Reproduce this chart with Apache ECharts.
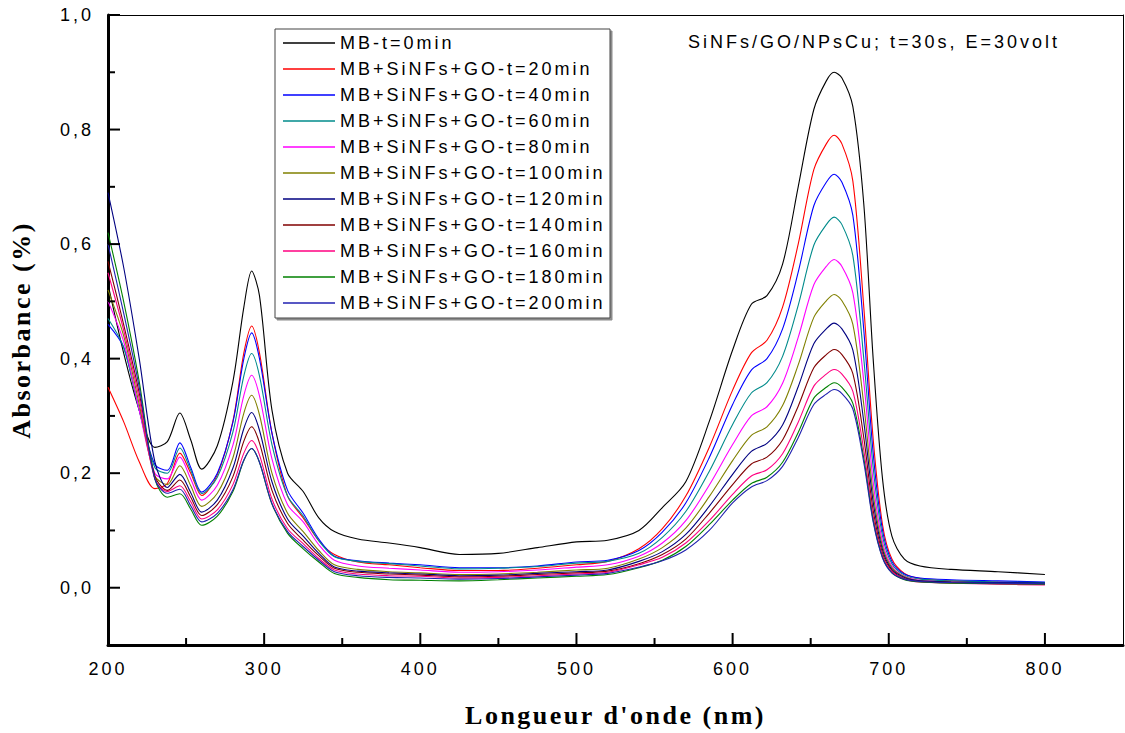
<!DOCTYPE html>
<html>
<head>
<meta charset="utf-8">
<script src="https://cdn.jsdelivr.net/npm/echarts@6/dist/echarts.min.js"></script>
<style>
html,body{margin:0;padding:0;background:#fff}
#c{width:1125px;height:733px}
#c text[style*="spacedA"]{letter-spacing:3px}
#c text[style*="spacedB"]{letter-spacing:2.5px}
</style>
</head>
<body>
<div id="c"></div>
<script>
// ---------------- DATA ----------------
const wavelength = [200,210,220,230,238,246,253,260,270,280,287,292,297,305,315,325,335,345,360,380,400,425,450,475,500,520,540,555,570,585,600,612,622,632,642,652,660,665,670,677,684,690,696,702,710,720,740,770,800];

const mb_t0 = [0.53,0.41,0.31,0.245,0.255,0.305,0.258,0.207,0.248,0.36,0.49,0.553,0.51,0.31,0.2,0.168,0.122,0.098,0.085,0.078,
 0.07,0.058,0.06,0.07,0.08,0.083,0.10,0.14,0.185,0.29,0.415,
 0.495,0.51,0.565,0.70,0.835,0.885,0.9,
 0.89,0.84,0.67,0.40,0.19,0.09,0.05,0.038,0.032,0.028,0.023];
const go_t20 = [0.35,0.29,0.22,0.173,0.182,0.235,0.2,0.161,0.197,0.291,0.41,0.457,0.41,0.27,0.16,0.122,0.082,0.058,0.045,0.04,
 0.035,0.03,0.03,0.034,0.04,0.046,0.068,0.103,0.16,0.245,0.345,
 0.41,0.432,0.49,0.6,0.73,0.775,0.79,
 0.775,0.71,0.49,0.26,0.11,0.05,0.025,0.016,0.012,0.01,0.008];
const go_t40 = [0.46,0.42,0.31,0.215,0.205,0.253,0.21,0.167,0.2,0.289,0.4,0.445,0.4,0.27,0.17,0.13,0.085,0.055,0.047,0.043,
 0.04,0.035,0.035,0.038,0.045,0.048,0.065,0.097,0.148,0.227,0.32,
 0.38,0.40,0.452,0.551,0.667,0.708,0.722,
 0.708,0.65,0.45,0.235,0.1,0.046,0.024,0.017,0.014,0.012,0.01];
const go_t60 = [0.47,0.42,0.31,0.21,0.2,0.244,0.205,0.164,0.193,0.272,0.37,0.409,0.37,0.25,0.16,0.125,0.082,0.054,0.046,0.042,
 0.038,0.033,0.034,0.037,0.043,0.046,0.06,0.088,0.133,0.203,0.285,
 0.34,0.358,0.404,0.493,0.598,0.634,0.647,
 0.634,0.58,0.40,0.21,0.09,0.042,0.022,0.015,0.012,0.01,0.009];
const go_t80 = [0.5,0.43,0.31,0.2,0.19,0.228,0.19,0.153,0.179,0.249,0.336,0.371,0.335,0.225,0.145,0.115,0.075,0.048,0.038,0.034,
 0.031,0.027,0.028,0.031,0.036,0.04,0.055,0.078,0.117,0.179,0.25,
 0.30,0.316,0.357,0.437,0.529,0.561,0.573,
 0.561,0.515,0.36,0.185,0.08,0.038,0.02,0.013,0.01,0.008,0.007];
const go_t100 = [0.52,0.44,0.32,0.195,0.18,0.213,0.178,0.142,0.165,0.227,0.305,0.336,0.302,0.2,0.13,0.098,0.065,0.04,0.032,0.028,
 0.026,0.023,0.024,0.027,0.031,0.034,0.05,0.07,0.104,0.159,0.222,
 0.266,0.281,0.318,0.389,0.472,0.501,0.512,
 0.501,0.46,0.32,0.165,0.072,0.035,0.019,0.012,0.01,0.008,0.007];
const go_t120 = [0.69,0.56,0.40,0.22,0.175,0.198,0.166,0.132,0.153,0.209,0.278,0.306,0.275,0.185,0.12,0.09,0.06,0.036,0.029,0.026,
 0.024,0.021,0.022,0.025,0.028,0.031,0.046,0.063,0.093,0.142,0.198,
 0.238,0.252,0.284,0.351,0.426,0.452,0.462,
 0.452,0.415,0.29,0.15,0.066,0.032,0.018,0.012,0.01,0.009,0.008];
const go_t140 = [0.57,0.46,0.34,0.195,0.17,0.188,0.158,0.126,0.145,0.194,0.256,0.281,0.253,0.17,0.112,0.083,0.056,0.034,0.027,0.024,
 0.022,0.019,0.02,0.023,0.026,0.029,0.042,0.058,0.085,0.13,0.18,
 0.216,0.228,0.258,0.317,0.384,0.407,0.416,
 0.407,0.374,0.262,0.135,0.06,0.03,0.016,0.011,0.009,0.007,0.006];
const go_t160 = [0.55,0.45,0.33,0.19,0.168,0.178,0.15,0.12,0.136,0.18,0.235,0.257,0.232,0.155,0.103,0.077,0.051,0.031,0.024,0.021,
 0.02,0.017,0.018,0.021,0.024,0.027,0.04,0.053,0.078,0.117,0.163,
 0.195,0.206,0.234,0.289,0.352,0.373,0.381,
 0.373,0.343,0.24,0.125,0.056,0.028,0.015,0.01,0.008,0.006,0.005];
const go_t180 = [0.62,0.50,0.36,0.19,0.158,0.164,0.137,0.109,0.125,0.168,0.222,0.243,0.219,0.146,0.095,0.068,0.045,0.025,0.018,0.014,
 0.013,0.012,0.014,0.017,0.02,0.023,0.035,0.048,0.072,0.11,0.153,
 0.182,0.193,0.219,0.271,0.331,0.35,0.358,
 0.35,0.322,0.226,0.118,0.053,0.026,0.014,0.01,0.008,0.007,0.006];
const go_t200 = [0.60,0.48,0.35,0.19,0.165,0.172,0.143,0.115,0.13,0.171,0.223,0.243,0.219,0.147,0.098,0.072,0.048,0.028,0.021,0.018,
 0.017,0.015,0.016,0.019,0.022,0.025,0.036,0.047,0.066,0.10,0.148,
 0.176,0.187,0.212,0.262,0.32,0.338,0.346,
 0.339,0.312,0.219,0.115,0.052,0.026,0.015,0.011,0.009,0.008,0.007];

const seriesNames = ['MB-t=0min','MB+SiNFs+GO-t=20min','MB+SiNFs+GO-t=40min','MB+SiNFs+GO-t=60min','MB+SiNFs+GO-t=80min',
 'MB+SiNFs+GO-t=100min','MB+SiNFs+GO-t=120min','MB+SiNFs+GO-t=140min','MB+SiNFs+GO-t=160min','MB+SiNFs+GO-t=180min','MB+SiNFs+GO-t=200min'];
const seriesValues = [mb_t0, go_t20, go_t40, go_t60, go_t80, go_t100, go_t120, go_t140, go_t160, go_t180, go_t200];

const xRange = [200, 850];
const yRange = [-0.1, 1.0];
const xMajorTicks = [200,300,400,500,600,700,800];
const xMinorTicks = [250,350,450,550,650,750];
const yMajorTicks = [0,0.2,0.4,0.6,0.8,1.0];
const yMinorTicks = [0.1,0.3,0.5,0.7,0.9];
const annotation = 'SiNFs/GO/NPsCu; t=30s, E=30volt';
const xTitle = "Longueur d'onde (nm)";
const yTitle = 'Absorbance (%)';

// ---------------- STYLE ----------------
const colors = ['#000000','#FF0000','#0000FF','#008B8B','#FF00FF','#808000','#000080','#800000','#FF0080','#008000','#2020B0'];
const LABEL_FONT = "spacedA, 'Liberation Sans', Arial, sans-serif";
const TITLE_FONT = "spacedB, 'Liberation Serif', 'Times New Roman', serif";
const MAJOR_LEN = 12, MINOR_LEN = 7;
const TICK_COLOR = '#000000';

const chart = echarts.init(document.getElementById('c'), null, {renderer: 'svg'});

const series = seriesNames.map((name, i) => ({
  name: name,
  type: 'line',
  data: wavelength.map((w, k) => [w, seriesValues[i][k]]),
  showSymbol: false,
  symbol: 'none',
  smooth: 0.3,
  color: colors[i],
  lineStyle: {width: 1.1, color: colors[i]},
  z: 2 + i * 0.01
}));

// inward tick marks, positioned through the axes' scales
series.push({
  type: 'custom', name: 'xticks', silent: true, clip: false, z: 6,
  data: xMajorTicks.map(v => [v, MAJOR_LEN]).concat(xMinorTicks.map(v => [v, MINOR_LEN])),
  encode: {x: 0},
  renderItem: (params, api) => {
    const p = api.coord([api.value(0), yRange[0]]);
    return {type: 'line', shape: {x1: p[0], y1: p[1], x2: p[0], y2: p[1] - api.value(1)},
            style: {stroke: TICK_COLOR, lineWidth: 2}};
  }
});
series.push({
  type: 'custom', name: 'yticks', silent: true, clip: false, z: 6,
  data: yMajorTicks.map(v => [xRange[0], v, MAJOR_LEN]).concat(yMinorTicks.map(v => [xRange[0], v, MINOR_LEN])),
  encode: {x: 0, y: 1},
  renderItem: (params, api) => {
    const p = api.coord([xRange[0], api.value(1)]);
    return {type: 'line', shape: {x1: p[0], y1: p[1], x2: p[0] + api.value(2), y2: p[1]},
            style: {stroke: TICK_COLOR, lineWidth: 2}};
  }
});

chart.setOption({
  animation: false,
  backgroundColor: '#fff',
  grid: {show: false, left: 106, right: 2, top: 15, bottom: 88},
  xAxis: [
    {
      type: 'value', min: xRange[0], max: xRange[1], position: 'bottom',
      axisLine: {show: true, onZero: false, lineStyle: {color: '#000', width: 3}},
      axisTick: {show: false}, minorTick: {show: false},
      axisLabel: {customValues: xMajorTicks, margin: 15, fontSize: 18, color: '#000', fontFamily: LABEL_FONT},
      splitLine: {show: false},
      name: xTitle, nameLocation: 'middle', nameGap: 57,
      nameTextStyle: {fontFamily: TITLE_FONT, fontSize: 26, fontWeight: 'bold', color: '#000'}
    },
    {
      type: 'value', min: xRange[0], max: xRange[1], position: 'top',
      axisLine: {show: true, onZero: false, lineStyle: {color: '#000', width: 1}},
      axisTick: {show: false}, axisLabel: {show: false}, splitLine: {show: false}
    }
  ],
  yAxis: [
    {
      type: 'value', min: yRange[0], max: yRange[1], position: 'left',
      axisLine: {show: true, onZero: false, lineStyle: {color: '#000', width: 3}},
      axisTick: {show: false}, minorTick: {show: false},
      axisLabel: {customValues: yMajorTicks, margin: 14, fontSize: 18, color: '#000', fontFamily: LABEL_FONT,
        formatter: v => Number(v).toFixed(1).replace('.', ',')},
      splitLine: {show: false},
      name: yTitle, nameLocation: 'middle', nameGap: 74, nameRotate: 90,
      nameTextStyle: {fontFamily: TITLE_FONT, fontSize: 26, fontWeight: 'bold', color: '#000'}
    },
    {
      type: 'value', min: yRange[0], max: yRange[1], position: 'right',
      axisLine: {show: true, onZero: false, lineStyle: {color: '#000', width: 1}},
      axisTick: {show: false}, axisLabel: {show: false}, splitLine: {show: false}
    }
  ],
  legend: {
    orient: 'vertical', left: 283, top: 34, padding: 0,
    itemWidth: 52, itemHeight: 1.5, itemGap: 8, icon: 'rect',
    textStyle: {fontFamily: LABEL_FONT, fontSize: 18, color: '#000', lineHeight: 18},
    data: seriesNames, z: 10, selectedMode: false
  },
  graphic: [
    {type: 'rect', z: 5, shape: {x: 275, y: 29, width: 335, height: 289},
     style: {fill: '#fff', stroke: '#444', lineWidth: 1, shadowColor: 'rgba(0,0,0,0.45)', shadowOffsetX: 2, shadowOffsetY: 2, shadowBlur: 1}},
    {type: 'text', z: 5, left: 688, top: 33,
     style: {text: annotation, fontFamily: LABEL_FONT, fontSize: 18, fill: '#000'}}
  ],
  series: series
});
</script>
</body>
</html>
